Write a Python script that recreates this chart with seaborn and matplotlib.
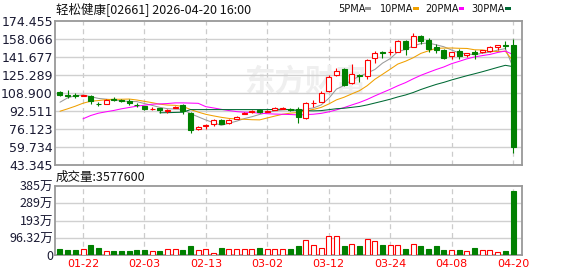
import numpy as np
import pandas as pd
import matplotlib
matplotlib.use("Agg")
import matplotlib.pyplot as plt
from matplotlib.patches import Rectangle
import seaborn as sns

sns.set_style("white")
FAM = ["Noto Sans CJK SC", "DejaVu Sans"]
plt.rcParams["font.family"] = FAM

title = "轻松健康[02661] 2026-04-20 16:00"
vol_title = "成交量:3577600"
watermark = "东方财富"

dates = ["01-19", "01-20", "01-21", "01-22", "01-23", "01-26", "01-27", "01-28", "01-29", "01-30",
         "02-02", "02-03", "02-04", "02-05", "02-06", "02-09", "02-10", "02-11", "02-12", "02-13",
         "02-16", "02-20", "02-23", "02-24", "02-25", "02-26", "02-27", "03-02", "03-03", "03-04",
         "03-05", "03-06", "03-09", "03-10", "03-11", "03-12", "03-13", "03-16", "03-17", "03-18",
         "03-19", "03-20", "03-23", "03-24", "03-25", "03-26", "03-27", "03-30", "03-31", "04-01",
         "04-02", "04-08", "04-09", "04-10", "04-13", "04-14", "04-15", "04-16", "04-17", "04-20"]
tick_dates = ["01-22", "02-03", "02-13", "03-02", "03-12", "03-24", "04-08", "04-20"]

opens = [110.2, 106.8, 107.0, 106.3, 106.5, 99.3, 98.7, 103.2, 102.7, 102.0,
         98.4, 96.9, 94.2, 95.1, 92.3, 95.6, 98.4, 90.5, 76.0, 78.8,
         80.3, 84.5, 81.5, 85.5, 89.9, 91.5, 93.5, 91.5, 93.6, 94.5,
         94.0, 94.5, 86.0, 99.5, 101.1, 110.4, 125.3, 130.7, 118.0, 125.0,
         124.7, 140.7, 146.1, 146.0, 146.4, 156.4, 151.2, 160.9, 157.3, 151.2,
         148.2, 142.5, 147.3, 143.4, 146.4, 145.8, 147.3, 151.2, 152.7, 152.4]
highs = [111.1, 111.7, 108.6, 107.5, 106.8, 100.8, 103.0, 105.7, 103.6, 103.2,
         99.6, 97.5, 96.0, 95.5, 94.4, 97.0, 99.0, 91.5, 78.6, 80.9,
         84.8, 85.0, 85.4, 88.0, 91.5, 93.2, 94.0, 93.5, 96.0, 96.3,
         95.5, 96.0, 100.9, 102.9, 110.5, 125.3, 131.3, 131.6, 135.2, 126.1,
         140.3, 146.7, 146.7, 149.4, 157.3, 157.0, 163.3, 161.5, 159.3, 153.3,
         149.4, 146.5, 148.8, 145.6, 148.2, 148.0, 151.8, 152.4, 156.4, 157.9]
lows = [105.9, 104.5, 104.5, 106.0, 99.0, 97.5, 98.5, 101.7, 100.5, 97.8,
        96.0, 93.5, 93.0, 90.5, 90.5, 95.0, 90.0, 72.5, 75.6, 76.4,
        78.7, 80.5, 80.3, 85.0, 89.5, 91.0, 91.0, 91.2, 93.3, 94.2,
        92.5, 81.5, 84.8, 96.0, 100.8, 110.0, 124.0, 115.6, 117.5, 119.2,
        121.7, 136.1, 140.7, 143.4, 146.0, 143.4, 151.0, 153.4, 145.8, 145.2,
        139.8, 139.8, 139.8, 142.1, 139.8, 145.5, 146.4, 148.2, 149.4, 54.3]
closes = [106.8, 106.2, 106.6, 106.8, 101.4, 99.0, 102.7, 102.9, 102.0, 99.6,
          98.1, 93.9, 94.5, 93.0, 93.6, 96.3, 92.9, 74.9, 78.2, 79.4,
          83.9, 80.9, 84.5, 87.5, 91.1, 92.5, 91.4, 92.5, 95.6, 95.6,
          93.8, 86.9, 99.9, 100.2, 109.0, 123.8, 129.2, 116.5, 126.1, 124.5,
          139.1, 145.2, 145.5, 146.6, 156.1, 149.4, 160.9, 156.4, 149.4, 147.6,
          140.7, 146.1, 142.8, 145.2, 144.0, 147.6, 150.6, 152.4, 152.1, 59.7]
# volume in 万 shares
volumes = [33.7, 28.0, 28.0, 32.0, 54.0, 37.5, 22.5, 22.5, 22.5, 22.5,
           28.0, 28.0, 22.5, 22.5, 35.6, 35.6, 28.0, 48.7, 26.0, 35.6,
           9.4, 37.5, 35.6, 35.6, 35.6, 32.0, 37.5, 35.6, 32.0, 32.0,
           33.7, 50.6, 84.4, 54.0, 37.5, 107.0, 107.0, 50.6, 62.0, 50.6,
           90.0, 78.7, 56.0, 56.0, 56.0, 33.7, 62.0, 50.6, 33.7, 50.6,
           28.0, 28.0, 28.0, 22.5, 39.4, 28.0, 28.0, 16.9, 24.4, 357.76]

ma5_head = [100.5, 104.5, 106.5, 107.1]
ma10_head = [92.3, 94.5, 96.9, 99.6, 101.4, 102.0, 102.9, 103.2, 103.2]
ma20_head = [np.nan, np.nan, np.nan, 85.4, 88.4, 90.5, 91.8, 93.0, 94.5, 95.7,
             96.9, 97.8, 98.7, 99.0, 99.3, 99.9, 99.9, 99.7, 99.5]
ma30_head = [np.nan] * 13 + [90.9, 91.0, 91.2, 91.4, 93.8, 93.8, 93.8, 93.8, 93.8,
                             93.8, 93.8, 93.8, 93.8, 93.8, 93.8, 93.9]

price_ticks = ["43.345", "59.734", "76.123", "92.511", "108.900",
               "125.289", "141.677", "158.066", "174.455"]
vol_tick_vals = [0, 96.32, 192.64, 288.96, 385.28]
vol_tick_labels = ["0", "96.32万", "193万", "289万", "385万"]

ma_names = ["5PMA", "10PMA", "20PMA", "30PMA"]
ma_windows = [5, 10, 20, 30]
ma_heads = [ma5_head, ma10_head, ma20_head, ma30_head]
ma_colors = ["#9a9a9a", "#f0a000", "#ff00ff", "#006a35"]

RED = "#ff0000"
GREEN = "#008000"

df = pd.DataFrame({"date": dates, "open": opens, "high": highs, "low": lows,
                   "close": closes, "vol": volumes})
df["i"] = np.arange(len(df))
df["up"] = df["close"] >= df["open"]
for name, w, head in zip(ma_names, ma_windows, ma_heads):
    s = df["close"].rolling(w).mean()
    s.iloc[:len(head)] = head
    df[name] = s

W, H = 578, 276
fig = plt.figure(figsize=(W / 100, H / 100), dpi=100)
L, R = 55, 522
ax1 = fig.add_axes([L / W, 1 - 165 / H, (R - L) / W, (165 - 21) / H])
ax2 = fig.add_axes([L / W, 1 - 255 / H, (R - L) / W, (255 - 186) / H])

xlim = (-0.65, 60.17)
tick_pos = [dates.index(d) for d in tick_dates]
pvals = [float(t) for t in price_ticks]

for ax in (ax1, ax2):
    ax.set_xlim(*xlim)
    for sp in ax.spines.values():
        sp.set_color("#999999")
        sp.set_linewidth(1.3)
    ax.tick_params(length=0, pad=1.5)
    for p in tick_pos:
        ax.axvline(p, color="#cccccc", lw=0.9, ls=(0, (4, 3)), zorder=0)

# watermark
ax1.text(0.535, 0.58, watermark, transform=ax1.transAxes, fontsize=22, color="#efefef",
         fontweight="bold", style="italic", ha="center", va="center", zorder=0,
         family=FAM)

ax1.set_ylim(pvals[0], pvals[-1])
for v in pvals[1:-1]:
    ax1.axhline(v, color="#d0d0d0", lw=1.0, zorder=0)
ax1.set_yticks(pvals)
ax1.set_yticklabels(price_ticks, fontsize=9, color="#1a1a33", family=["DejaVu Sans"])
ax1.set_xticks([])

bw = 0.65
for _, r in df.iterrows():
    col = RED if r["up"] else GREEN
    top = max(r["open"], r["close"])
    bot = min(r["open"], r["close"])
    ax1.vlines(r["i"], top, r["high"], color=col, lw=0.8, zorder=3)
    ax1.vlines(r["i"], r["low"], bot, color=col, lw=0.8, zorder=3)
    h = max(top - bot, 0.25)
    ax1.bar(r["i"], h, bottom=bot, width=bw,
            facecolor="white" if r["up"] else col, edgecolor=col, linewidth=0.8, zorder=4)

for name, c in zip(ma_names, ma_colors):
    sub = df.dropna(subset=[name])
    sns.lineplot(data=sub, x="i", y=name, ax=ax1, color=c, linewidth=0.75, zorder=2,
                 estimator=None, sort=True)
ax1.set_xlabel("")
ax1.set_ylabel("")
ax1.set_xlim(*xlim)
ax1.set_xticks([])

# volume panel
ax2.set_ylim(0, vol_tick_vals[-1])
for v in vol_tick_vals[1:-1]:
    ax2.axhline(v, color="#d0d0d0", lw=1.0, zorder=0)
for _, r in df.iterrows():
    col = RED if r["up"] else GREEN
    ax2.bar(r["i"], r["vol"], width=bw, facecolor="white" if r["up"] else col,
            edgecolor=col, linewidth=0.8, zorder=3)
ax2.set_yticks(vol_tick_vals)
ax2.set_yticklabels(vol_tick_labels, fontsize=9, color="#1a1a33")
ax2.set_xticks(tick_pos)
ax2.set_xticklabels(tick_dates, fontsize=8, color=RED, family=["DejaVu Sans"])
ax2.tick_params(axis="x", pad=3)

# titles
fig.text(56 / W, 1 - 9 / H, title, fontsize=9, va="center", ha="left", color="#111111")
fig.text(56 / W, 1 - 177.5 / H, vol_title, fontsize=9, va="center", ha="left", color="#111111")

# legend
leg_x = [338, 380, 425.7, 471.7]
sq_x = [365, 413, 458.7, 505]
for name, c, tx, sx in zip(ma_names, ma_colors, leg_x, sq_x):
    fig.text(tx / W, 1 - 9 / H, name, fontsize=7, va="center", ha="left", color="#111111",
             family=["DejaVu Sans"])
    fig.add_artist(Rectangle((sx / W, 1 - 10.3 / H), 5.5 / W, 3 / H, transform=fig.transFigure,
                             facecolor=c, edgecolor="none"))

fig.savefig("out.png", dpi=100)
